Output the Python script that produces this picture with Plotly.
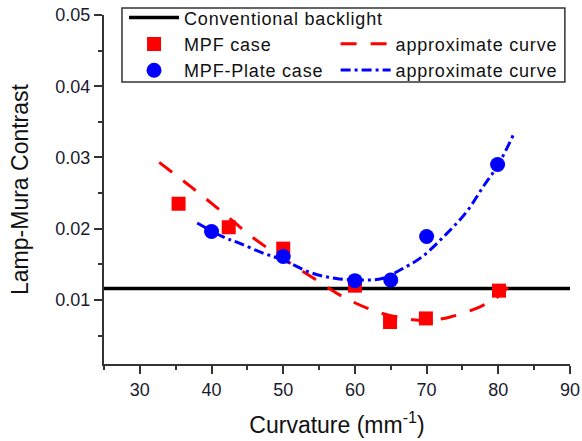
import plotly.graph_objects as go

# Measured lamp-mura contrast versus curvature
mpf_x = [35.4, 42.4, 50.0, 60.0, 64.9, 69.9, 80.1]
mpf_y = [0.0235, 0.0202, 0.0172, 0.0120, 0.0069, 0.0074, 0.0113]

plate_x = [40.0, 50.0, 60.0, 65.0, 70.0, 79.9]
plate_y = [0.0196, 0.0161, 0.0127, 0.0128, 0.0189, 0.0290]

# Approximate (fitted) curves
mpf_fit_x = [32.7, 37.1, 41.3, 45.7, 50.0, 54.3, 58.4, 62.6, 66.8, 70.0, 73.3, 77.6, 80.0, 81.9]
mpf_fit_y = [0.0293, 0.0259, 0.0225, 0.0188, 0.0158, 0.0130, 0.0104, 0.0085, 0.0074, 0.0071,
             0.0076, 0.0091, 0.0105, 0.0124]

plate_fit_x = [38.0, 41.7, 43.8, 47.1, 50.0, 53.9, 57.4, 61.0, 63.8, 66.3, 69.3, 72.6,
               75.6, 77.9, 80.0, 82.2]
plate_fit_y = [0.0208, 0.0188, 0.0180, 0.0166, 0.0156, 0.0138, 0.0130, 0.0128, 0.0130,
               0.0142, 0.0160, 0.0191, 0.0224, 0.0259, 0.0290, 0.0334]

# Reference level of the conventional backlight
conv_x = [25, 90]
conv_y = [0.0116, 0.0116]

FONT = "Liberation Sans, Arial, sans-serif"


def spaced(text):
    return "<span style='letter-spacing:0.8px'>" + text + "</span>"


fig = go.Figure()

fig.add_trace(go.Scatter(
    x=conv_x, y=conv_y, mode="lines", name=spaced("Conventional backlight"),
    line=dict(color="black", width=3.5), legend="legend"))

fig.add_trace(go.Scatter(
    x=mpf_fit_x, y=mpf_fit_y, mode="lines", name=spaced("approximate curve"),
    line=dict(color="#ff0000", width=3, dash="16px,14px", shape="spline"),
    legend="legend2"))

fig.add_trace(go.Scatter(
    x=plate_fit_x, y=plate_fit_y, mode="lines", name=spaced("approximate curve"),
    line=dict(color="#0000ff", width=3, dash="10px,4px,3px,4px", shape="spline"),
    legend="legend2"))

fig.add_trace(go.Scatter(
    x=mpf_x, y=mpf_y, mode="markers", name=spaced("MPF case"),
    marker=dict(symbol="square", size=14, color="#ff0000", line=dict(width=0)),
    legend="legend"))

fig.add_trace(go.Scatter(
    x=plate_x, y=plate_y, mode="markers", name=spaced("MPF-Plate case"),
    marker=dict(symbol="circle", size=15, color="#0000ff", line=dict(width=0)),
    legend="legend"))

axis_common = dict(
    showline=True, linecolor="#333333", linewidth=2,
    ticks="outside", ticklen=8, tickwidth=1.5, tickcolor="#333333",
    showgrid=False, zeroline=False,
    tickfont=dict(family=FONT, size=18, color="#1a1a2e"),
    mirror=False, automargin=False,
)

fig.update_xaxes(
    range=[25, 90], tick0=0, dtick=10,
    minor=dict(dtick=5, ticks="outside", ticklen=4, tickcolor="#333333", tickwidth=1.5),
    title=dict(text="Curvature (mm<sup>-1</sup>)", font=dict(family=FONT, size=23, color="#111111"),
               standoff=18),
    **axis_common)

fig.update_yaxes(
    range=[0.001, 0.05], tick0=0, dtick=0.01, tickformat=".2f",
    minor=dict(dtick=0.005, ticks="outside", ticklen=4, tickcolor="#333333", tickwidth=1.5),
    title=dict(text="Lamp-Mura Contrast", font=dict(family=FONT, size=23, color="#111111"),
               standoff=20),
    **axis_common)

legend_font = dict(family=FONT, size=18, color="#111111")

fig.update_layout(
    width=582, height=441,
    margin=dict(l=104, r=12, t=15, b=77, autoexpand=False),
    plot_bgcolor="white", paper_bgcolor="white",
    legend=dict(x=0.043, y=1.045, xanchor="left", yanchor="top",
                bgcolor="rgba(0,0,0,0)", borderwidth=0, font=legend_font,
                itemwidth=50, tracegroupgap=0),
    legend2=dict(x=0.497, y=0.97, xanchor="left", yanchor="top",
                 bgcolor="rgba(0,0,0,0)", borderwidth=0, font=legend_font,
                 itemwidth=50, tracegroupgap=0),
    shapes=[dict(type="rect", xref="paper", yref="paper",
                 x0=0.0386, x1=0.989, y0=0.808, y1=1.020,
                 line=dict(color="#333333", width=1.5), fillcolor="rgba(0,0,0,0)")],
)

fig.write_html("out.html")
